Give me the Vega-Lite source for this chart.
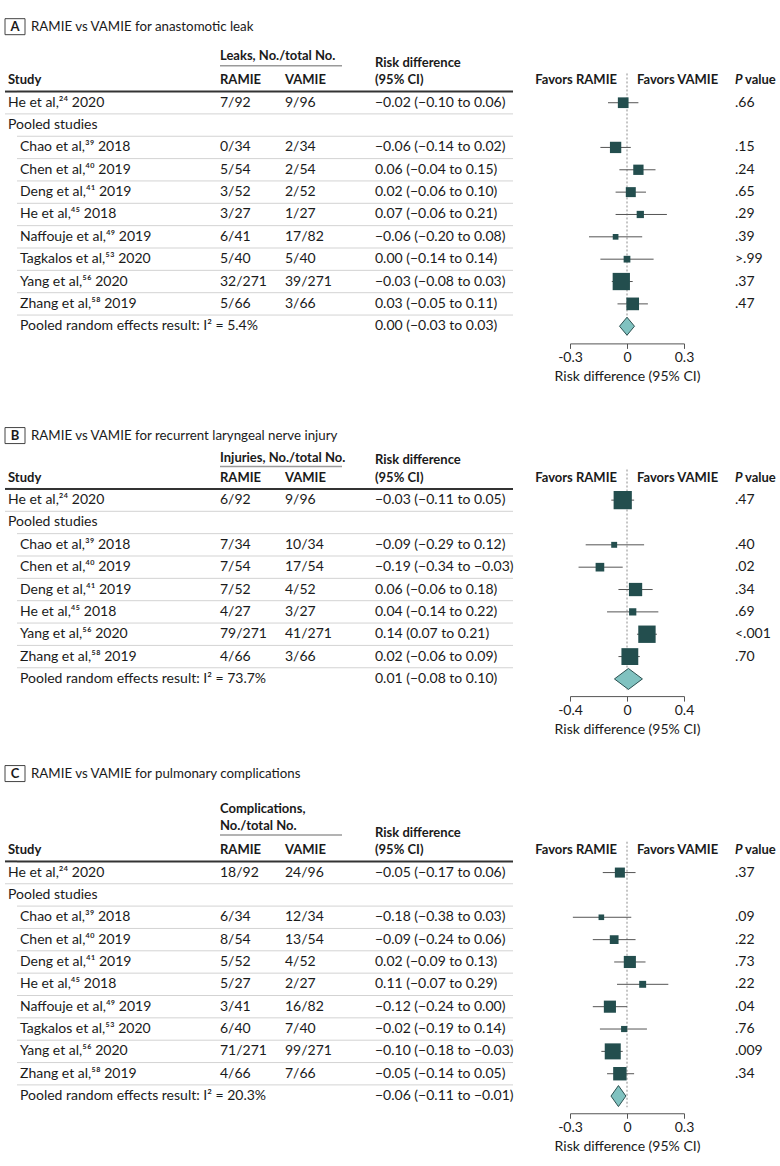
{
"$schema":"https://vega.github.io/schema/vega-lite/v6.json",
"autosize":{"type":"pad"},
"padding":{"top":16.5,"left":3,"right":0,"bottom":4},
"background":"white",
"config":{"view":{"stroke":null},"font":"Lato","text":{"font":"Lato","fontSize":14,"align":"left","baseline":"middle","color":"#1a1a1a"},"axis":{"labelFont":"Lato","titleFont":"Lato"}},
"datasets":{
"A":[
{"row":"r1","kind":"single","study":"He et al,²⁴ 2020","ramie":"7/92","vamie":"9/96","rd":"−0.02 (−0.10 to 0.06)","est":-0.02,"lo":-0.10,"hi":0.06,"w":12.4,"p":".66"},
{"row":"r2","kind":"label","study":"Pooled studies"},
{"row":"r3","kind":"study","study":"Chao et al,³⁹ 2018","ramie":"0/34","vamie":"2/34","rd":"−0.06 (−0.14 to 0.02)","est":-0.06,"lo":-0.14,"hi":0.02,"w":13.9,"p":".15"},
{"row":"r4","kind":"study","study":"Chen et al,⁴⁰ 2019","ramie":"5/54","vamie":"2/54","rd":"0.06 (−0.04 to 0.15)","est":0.06,"lo":-0.04,"hi":0.15,"w":11.5,"p":".24"},
{"row":"r5","kind":"study","study":"Deng et al,⁴¹ 2019","ramie":"3/52","vamie":"2/52","rd":"0.02 (−0.06 to 0.10)","est":0.02,"lo":-0.06,"hi":0.10,"w":10.8,"p":".65"},
{"row":"r6","kind":"study","study":"He et al,⁴⁵ 2018","ramie":"3/27","vamie":"1/27","rd":"0.07 (−0.06 to 0.21)","est":0.07,"lo":-0.06,"hi":0.21,"w":5.7,"p":".29"},
{"row":"r7","kind":"study","study":"Naffouje et al,⁴⁹ 2019","ramie":"6/41","vamie":"17/82","rd":"−0.06 (−0.20 to 0.08)","est":-0.06,"lo":-0.20,"hi":0.08,"w":3.5,"p":".39"},
{"row":"r8","kind":"study","study":"Tagkalos et al,⁵³ 2020","ramie":"5/40","vamie":"5/40","rd":"0.00 (−0.14 to 0.14)","est":0.00,"lo":-0.14,"hi":0.14,"w":4.9,"p":">.99"},
{"row":"r9","kind":"study","study":"Yang et al,⁵⁶ 2020","ramie":"32/271","vamie":"39/271","rd":"−0.03 (−0.08 to 0.03)","est":-0.03,"lo":-0.08,"hi":0.03,"w":32.4,"p":".37"},
{"row":"r10","kind":"study","study":"Zhang et al,⁵⁸ 2019","ramie":"5/66","vamie":"3/66","rd":"0.03 (−0.05 to 0.11)","est":0.03,"lo":-0.05,"hi":0.11,"w":17.4,"p":".47"},
{"row":"r11","kind":"result","study":"Pooled random effects result: I² = 5.4%","rd":"0.00 (−0.03 to 0.03)","est":0.00,"lo":-0.03,"hi":0.03}
],
"hA":[
{"row":"title","kind":"letter","text":"A"},
{"row":"title","kind":"title","text":"RAMIE vs VAMIE for anastomotic leak"},
{"row":"h3","kind":"hdr","col":"study","text":"Study"},
{"row":"h2","kind":"group","text":"Leaks, No./total No."},
{"row":"h3","kind":"hdr","col":"ramie","text":"RAMIE"},
{"row":"h3","kind":"hdr","col":"vamie","text":"VAMIE"},
{"row":"h2","kind":"rdtop","text":"Risk difference"},
{"row":"h3","kind":"hdr","col":"rd","text":"(95% CI)"},
{"row":"h3","kind":"favL","text":"Favors RAMIE"},
{"row":"h3","kind":"favR","text":"Favors VAMIE"},
{"row":"h3","kind":"pital","text":"P"},
{"row":"h3","kind":"pval","text":"value"}
],
"B":[
{"row":"r1","kind":"single","study":"He et al,²⁴ 2020","ramie":"6/92","vamie":"9/96","rd":"−0.03 (−0.11 to 0.05)","est":-0.03,"lo":-0.11,"hi":0.05,"w":36,"p":".47"},
{"row":"r2","kind":"label","study":"Pooled studies"},
{"row":"r3","kind":"study","study":"Chao et al,³⁹ 2018","ramie":"7/34","vamie":"10/34","rd":"−0.09 (−0.29 to 0.12)","est":-0.09,"lo":-0.29,"hi":0.12,"w":3.8,"p":".40"},
{"row":"r4","kind":"study","study":"Chen et al,⁴⁰ 2019","ramie":"7/54","vamie":"17/54","rd":"−0.19 (−0.34 to −0.03)","est":-0.19,"lo":-0.34,"hi":-0.03,"w":8.1,"p":".02"},
{"row":"r5","kind":"study","study":"Deng et al,⁴¹ 2019","ramie":"7/52","vamie":"4/52","rd":"0.06 (−0.06 to 0.18)","est":0.06,"lo":-0.06,"hi":0.18,"w":19.1,"p":".34"},
{"row":"r6","kind":"study","study":"He et al,⁴⁵ 2018","ramie":"4/27","vamie":"3/27","rd":"0.04 (−0.14 to 0.22)","est":0.04,"lo":-0.14,"hi":0.22,"w":5.7,"p":".69"},
{"row":"r7","kind":"study","study":"Yang et al,⁵⁶ 2020","ramie":"79/271","vamie":"41/271","rd":"0.14 (0.07 to 0.21)","est":0.14,"lo":0.07,"hi":0.21,"w":32.7,"p":"<.001"},
{"row":"r8","kind":"study","study":"Zhang et al,⁵⁸ 2019","ramie":"4/66","vamie":"3/66","rd":"0.02 (−0.06 to 0.09)","est":0.02,"lo":-0.06,"hi":0.09,"w":30.7,"p":".70"},
{"row":"r9","kind":"result","study":"Pooled random effects result: I² = 73.7%","rd":"0.01 (−0.08 to 0.10)","est":0.01,"lo":-0.08,"hi":0.10}
],
"hB":[
{"row":"title","kind":"letter","text":"B"},
{"row":"title","kind":"title","text":"RAMIE vs VAMIE for recurrent laryngeal nerve injury"},
{"row":"h3","kind":"hdr","col":"study","text":"Study"},
{"row":"h2","kind":"group","text":"Injuries, No./total No."},
{"row":"h3","kind":"hdr","col":"ramie","text":"RAMIE"},
{"row":"h3","kind":"hdr","col":"vamie","text":"VAMIE"},
{"row":"h2","kind":"rdtop","text":"Risk difference"},
{"row":"h3","kind":"hdr","col":"rd","text":"(95% CI)"},
{"row":"h3","kind":"favL","text":"Favors RAMIE"},
{"row":"h3","kind":"favR","text":"Favors VAMIE"},
{"row":"h3","kind":"pital","text":"P"},
{"row":"h3","kind":"pval","text":"value"}
],
"C":[
{"row":"r1","kind":"single","study":"He et al,²⁴ 2020","ramie":"18/92","vamie":"24/96","rd":"−0.05 (−0.17 to 0.06)","est":-0.05,"lo":-0.17,"hi":0.06,"w":10.9,"p":".37"},
{"row":"r2","kind":"label","study":"Pooled studies"},
{"row":"r3","kind":"study","study":"Chao et al,³⁹ 2018","ramie":"6/34","vamie":"12/34","rd":"−0.18 (−0.38 to 0.03)","est":-0.18,"lo":-0.38,"hi":0.03,"w":3.4,"p":".09"},
{"row":"r4","kind":"study","study":"Chen et al,⁴⁰ 2019","ramie":"8/54","vamie":"13/54","rd":"−0.09 (−0.24 to 0.06)","est":-0.09,"lo":-0.24,"hi":0.06,"w":8.3,"p":".22"},
{"row":"r5","kind":"study","study":"Deng et al,⁴¹ 2019","ramie":"5/52","vamie":"4/52","rd":"0.02 (−0.09 to 0.13)","est":0.02,"lo":-0.09,"hi":0.13,"w":15.9,"p":".73"},
{"row":"r6","kind":"study","study":"He et al,⁴⁵ 2018","ramie":"5/27","vamie":"2/27","rd":"0.11 (−0.07 to 0.29)","est":0.11,"lo":-0.07,"hi":0.29,"w":5.2,"p":".22"},
{"row":"r7","kind":"study","study":"Naffouje et al,⁴⁹ 2019","ramie":"3/41","vamie":"16/82","rd":"−0.12 (−0.24 to 0.00)","est":-0.12,"lo":-0.24,"hi":0.00,"w":15.9,"p":".04"},
{"row":"r8","kind":"study","study":"Tagkalos et al,⁵³ 2020","ramie":"6/40","vamie":"7/40","rd":"−0.02 (−0.19 to 0.14)","est":-0.02,"lo":-0.19,"hi":0.14,"w":4.1,"p":".76"},
{"row":"r9","kind":"study","study":"Yang et al,⁵⁶ 2020","ramie":"71/271","vamie":"99/271","rd":"−0.10 (−0.18 to −0.03)","est":-0.10,"lo":-0.18,"hi":-0.03,"w":27.8,"p":".009"},
{"row":"r10","kind":"study","study":"Zhang et al,⁵⁸ 2019","ramie":"4/66","vamie":"7/66","rd":"−0.05 (−0.14 to 0.05)","est":-0.05,"lo":-0.14,"hi":0.05,"w":19.5,"p":".34"},
{"row":"r11","kind":"result","study":"Pooled random effects result: I² = 20.3%","rd":"−0.06 (−0.11 to −0.01)","est":-0.06,"lo":-0.11,"hi":-0.01}
],
"hC":[
{"row":"title","kind":"letter","text":"C"},
{"row":"title","kind":"title","text":"RAMIE vs VAMIE for pulmonary complications"},
{"row":"h3","kind":"hdr","col":"study","text":"Study"},
{"row":"h1","kind":"group","text":"Complications,"},
{"row":"h2","kind":"group2","text":"No./total No."},
{"row":"h3","kind":"hdr","col":"ramie","text":"RAMIE"},
{"row":"h3","kind":"hdr","col":"vamie","text":"VAMIE"},
{"row":"h2","kind":"rdtop","text":"Risk difference"},
{"row":"h3","kind":"hdr","col":"rd","text":"(95% CI)"},
{"row":"h3","kind":"favL","text":"Favors RAMIE"},
{"row":"h3","kind":"favR","text":"Favors VAMIE"},
{"row":"h3","kind":"pital","text":"P"},
{"row":"h3","kind":"pval","text":"value"}
]
},
"spacing":38.4,
"vconcat":[
{"bounds":"flush","spacing":0,"hconcat":[
 {"width":12,"height":312.9,"encoding":{"x":{"datum":0,"type":"quantitative","scale":{"domain":[0,1]},"axis":null},"y":{"field":"row","type":"nominal","scale":{"type":"band","domain":["title","h2","h3","r1","r2","r3","r4","r5","r6","r7","r8","r9","r10","r11"],"paddingInner":0,"paddingOuter":0},"axis":null}},"layer":[
  {"data":{"name":"hA"},"transform":[{"filter":"datum.kind=='letter'"}],"mark":{"type":"point","shape":"M-1,-0.8L1,-0.8L1,0.8L-1,0.8Z","size":400,"filled":false,"stroke":"#444444","strokeWidth":1,"opacity":1,"xOffset":10,"yOffset":-9}},
  {"data":{"name":"hA"},"transform":[{"filter":"datum.kind=='letter'"}],"mark":{"type":"text","fontWeight":"bold","fontSize":13,"align":"center","dx":10,"dy":-9},"encoding":{"text":{"field":"text"}}},
  {"data":{"name":"hA"},"transform":[{"filter":"datum.kind=='title'"}],"mark":{"type":"text","fontSize":13.3,"dx":26,"dy":-9},"encoding":{"text":{"field":"text"}}},
  {"data":{"name":"hA"},"transform":[{"filter":"datum.col=='study'"}],"mark":{"type":"text","fontWeight":"bold","fontSize":13,"dx":3},"encoding":{"text":{"field":"text"}}},
  {"data":{"values":[{}]},"mark":{"type":"rule","color":"#333333","strokeWidth":2},"encoding":{"x2":{"datum":1},"y":{"datum":"h3","type":"nominal","bandPosition":1,"scale":{"type":"band","domain":["title","h2","h3","r1","r2","r3","r4","r5","r6","r7","r8","r9","r10","r11"],"paddingInner":0,"paddingOuter":0},"axis":null}}},
  {"data":{"name":"A"},"transform":[{"filter":"datum.kind=='single'"}],"mark":{"type":"rule","color":"#d3d3d3","strokeWidth":1},"encoding":{"x2":{"datum":1},"y":{"field":"row","type":"nominal","bandPosition":1,"scale":{"type":"band","domain":["title","h2","h3","r1","r2","r3","r4","r5","r6","r7","r8","r9","r10","r11"],"paddingInner":0,"paddingOuter":0},"axis":null}}},
  {"data":{"name":"A"},"transform":[{"filter":"datum.kind=='single'||datum.kind=='label'"}],"mark":{"type":"text","dx":3},"encoding":{"text":{"field":"study"}}}
 ]},
 {"width":203,"height":312.9,"encoding":{"x":{"datum":0,"type":"quantitative","scale":{"domain":[0,1]},"axis":null},"y":{"field":"row","type":"nominal","scale":{"type":"band","domain":["title","h2","h3","r1","r2","r3","r4","r5","r6","r7","r8","r9","r10","r11"],"paddingInner":0,"paddingOuter":0},"axis":null}},"layer":[
  {"data":{"values":[{}]},"mark":{"type":"rule","color":"#333333","strokeWidth":2},"encoding":{"x2":{"datum":1},"y":{"datum":"h3","type":"nominal","bandPosition":1,"scale":{"type":"band","domain":["title","h2","h3","r1","r2","r3","r4","r5","r6","r7","r8","r9","r10","r11"],"paddingInner":0,"paddingOuter":0},"axis":null}}},
  {"data":{"name":"A"},"transform":[{"filter":"datum.kind!='result'"}],"mark":{"type":"rule","color":"#d3d3d3","strokeWidth":1},"encoding":{"x2":{"datum":1},"y":{"field":"row","type":"nominal","bandPosition":1,"scale":{"type":"band","domain":["title","h2","h3","r1","r2","r3","r4","r5","r6","r7","r8","r9","r10","r11"],"paddingInner":0,"paddingOuter":0},"axis":null}}},
  {"data":{"name":"A"},"transform":[{"filter":"datum.kind=='study'||datum.kind=='result'"}],"mark":{"type":"text","dx":3},"encoding":{"text":{"field":"study"}}}
 ]},
 {"width":65,"height":312.9,"encoding":{"x":{"datum":0,"type":"quantitative","scale":{"domain":[0,1]},"axis":null},"y":{"field":"row","type":"nominal","scale":{"type":"band","domain":["title","h2","h3","r1","r2","r3","r4","r5","r6","r7","r8","r9","r10","r11"],"paddingInner":0,"paddingOuter":0},"axis":null}},"layer":[
  {"data":{"values":[{}]},"mark":{"type":"rule","color":"#333333","strokeWidth":2},"encoding":{"x2":{"datum":1},"y":{"datum":"h3","type":"nominal","bandPosition":1,"scale":{"type":"band","domain":["title","h2","h3","r1","r2","r3","r4","r5","r6","r7","r8","r9","r10","r11"],"paddingInner":0,"paddingOuter":0},"axis":null}}},
  {"data":{"name":"A"},"transform":[{"filter":"datum.kind!='result'"}],"mark":{"type":"rule","color":"#d3d3d3","strokeWidth":1},"encoding":{"x2":{"datum":1},"y":{"field":"row","type":"nominal","bandPosition":1,"scale":{"type":"band","domain":["title","h2","h3","r1","r2","r3","r4","r5","r6","r7","r8","r9","r10","r11"],"paddingInner":0,"paddingOuter":0},"axis":null}}},
  {"data":{"values":[{}]},"mark":{"type":"rule","color":"#9a9a9a","strokeWidth":1.5},"encoding":{"x2":{"datum":1},"y":{"datum":"h2","type":"nominal","bandPosition":0.845,"scale":{"type":"band","domain":["title","h2","h3","r1","r2","r3","r4","r5","r6","r7","r8","r9","r10","r11"],"paddingInner":0,"paddingOuter":0},"axis":null}}},
  {"data":{"name":"hA"},"transform":[{"filter":"datum.kind=='group'"}],"mark":{"type":"text","fontWeight":"bold","fontSize":13,"dy":-2.3},"encoding":{"text":{"field":"text"}}},
  {"data":{"name":"hA"},"transform":[{"filter":"datum.col=='ramie'"}],"mark":{"type":"text","fontWeight":"bold","fontSize":13},"encoding":{"text":{"field":"text"}}},
  {"data":{"name":"A"},"transform":[{"filter":"isValid(datum.ramie)"}],"mark":{"type":"text"},"encoding":{"text":{"field":"ramie"}}}
 ]},
 {"width":57,"height":312.9,"encoding":{"x":{"datum":0,"type":"quantitative","scale":{"domain":[0,1]},"axis":null},"y":{"field":"row","type":"nominal","scale":{"type":"band","domain":["title","h2","h3","r1","r2","r3","r4","r5","r6","r7","r8","r9","r10","r11"],"paddingInner":0,"paddingOuter":0},"axis":null}},"layer":[
  {"data":{"values":[{}]},"mark":{"type":"rule","color":"#333333","strokeWidth":2},"encoding":{"x2":{"datum":1},"y":{"datum":"h3","type":"nominal","bandPosition":1,"scale":{"type":"band","domain":["title","h2","h3","r1","r2","r3","r4","r5","r6","r7","r8","r9","r10","r11"],"paddingInner":0,"paddingOuter":0},"axis":null}}},
  {"data":{"name":"A"},"transform":[{"filter":"datum.kind!='result'"}],"mark":{"type":"rule","color":"#d3d3d3","strokeWidth":1},"encoding":{"x2":{"datum":1},"y":{"field":"row","type":"nominal","bandPosition":1,"scale":{"type":"band","domain":["title","h2","h3","r1","r2","r3","r4","r5","r6","r7","r8","r9","r10","r11"],"paddingInner":0,"paddingOuter":0},"axis":null}}},
  {"data":{"values":[{}]},"mark":{"type":"rule","color":"#9a9a9a","strokeWidth":1.5},"encoding":{"x2":{"datum":1},"y":{"datum":"h2","type":"nominal","bandPosition":0.845,"scale":{"type":"band","domain":["title","h2","h3","r1","r2","r3","r4","r5","r6","r7","r8","r9","r10","r11"],"paddingInner":0,"paddingOuter":0},"axis":null}}},
  {"data":{"name":"hA"},"transform":[{"filter":"datum.col=='vamie'"}],"mark":{"type":"text","fontWeight":"bold","fontSize":13},"encoding":{"text":{"field":"text"}}},
  {"data":{"name":"A"},"transform":[{"filter":"isValid(datum.vamie)"}],"mark":{"type":"text"},"encoding":{"text":{"field":"vamie"}}}
 ]},
 {"width":33,"height":312.9,"encoding":{"x":{"datum":0,"type":"quantitative","scale":{"domain":[0,1]},"axis":null},"y":{"field":"row","type":"nominal","scale":{"type":"band","domain":["title","h2","h3","r1","r2","r3","r4","r5","r6","r7","r8","r9","r10","r11"],"paddingInner":0,"paddingOuter":0},"axis":null}},"layer":[
  {"data":{"values":[{}]},"mark":{"type":"rule","color":"#333333","strokeWidth":2},"encoding":{"x2":{"datum":1},"y":{"datum":"h3","type":"nominal","bandPosition":1,"scale":{"type":"band","domain":["title","h2","h3","r1","r2","r3","r4","r5","r6","r7","r8","r9","r10","r11"],"paddingInner":0,"paddingOuter":0},"axis":null}}},
  {"data":{"name":"A"},"transform":[{"filter":"datum.kind!='result'"}],"mark":{"type":"rule","color":"#d3d3d3","strokeWidth":1},"encoding":{"x2":{"datum":1},"y":{"field":"row","type":"nominal","bandPosition":1,"scale":{"type":"band","domain":["title","h2","h3","r1","r2","r3","r4","r5","r6","r7","r8","r9","r10","r11"],"paddingInner":0,"paddingOuter":0},"axis":null}}}
 ]},
 {"width":138,"height":312.9,"encoding":{"x":{"datum":0,"type":"quantitative","scale":{"domain":[0,1]},"axis":null},"y":{"field":"row","type":"nominal","scale":{"type":"band","domain":["title","h2","h3","r1","r2","r3","r4","r5","r6","r7","r8","r9","r10","r11"],"paddingInner":0,"paddingOuter":0},"axis":null}},"layer":[
  {"data":{"values":[{}]},"mark":{"type":"rule","color":"#333333","strokeWidth":2},"encoding":{"x2":{"datum":1},"y":{"datum":"h3","type":"nominal","bandPosition":1,"scale":{"type":"band","domain":["title","h2","h3","r1","r2","r3","r4","r5","r6","r7","r8","r9","r10","r11"],"paddingInner":0,"paddingOuter":0},"axis":null}}},
  {"data":{"name":"A"},"transform":[{"filter":"datum.kind!='result'"}],"mark":{"type":"rule","color":"#d3d3d3","strokeWidth":1},"encoding":{"x2":{"datum":1},"y":{"field":"row","type":"nominal","bandPosition":1,"scale":{"type":"band","domain":["title","h2","h3","r1","r2","r3","r4","r5","r6","r7","r8","r9","r10","r11"],"paddingInner":0,"paddingOuter":0},"axis":null}}},
  {"data":{"name":"hA"},"transform":[{"filter":"datum.kind=='rdtop'"}],"mark":{"type":"text","fontWeight":"bold","fontSize":13,"dy":4.5},"encoding":{"text":{"field":"text"}}},
  {"data":{"name":"hA"},"transform":[{"filter":"datum.col=='rd'"}],"mark":{"type":"text","fontWeight":"bold","fontSize":13},"encoding":{"text":{"field":"text"}}},
  {"data":{"name":"A"},"transform":[{"filter":"isValid(datum.rd)"}],"mark":{"type":"text"},"encoding":{"text":{"field":"rd"}}}
 ]},
 {"width":222,"height":312.9,"encoding":{"y":{"field":"row","type":"nominal","scale":{"type":"band","domain":["title","h2","h3","r1","r2","r3","r4","r5","r6","r7","r8","r9","r10","r11"],"paddingInner":0,"paddingOuter":0},"axis":null}},"layer":[
  {"data":{"values":[{}]},"mark":{"type":"rule","color":"#8c8c8c","strokeDash":[2,2],"strokeWidth":1},"encoding":{"x":{"datum":0,"type":"quantitative","scale":{"domain":[-0.3,0.3],"range":[57,171],"clamp":true,"nice":false,"zero":false},"axis":{"values":[-0.3,0,0.3],"labelExpr":"datum.value < 0 ? '-0.3' : datum.value > 0 ? '0.3' : '0'","title":"Risk difference (95% CI)","offset":6,"grid":false,"domainColor":"#555555","tickColor":"#555555","tickSize":5,"labelFontSize":14,"labelColor":"#1a1a1a","labelPadding":2,"titleFontSize":14,"titleFontWeight":"normal","titleColor":"#1a1a1a","titlePadding":5,"orient":"bottom","labelFlush":false,"labelOverlap":false}},"y":{"datum":"h3","type":"nominal","bandPosition":0.19,"scale":{"type":"band","domain":["title","h2","h3","r1","r2","r3","r4","r5","r6","r7","r8","r9","r10","r11"],"paddingInner":0,"paddingOuter":0},"axis":null},"y2":{"datum":"r11","bandPosition":1}}},
  {"data":{"name":"hA"},"transform":[{"filter":"datum.kind=='favL'"}],"mark":{"type":"text","fontWeight":"bold","fontSize":13,"align":"right","dx":-10},"encoding":{"x":{"datum":0,"type":"quantitative"},"text":{"field":"text"}}},
  {"data":{"name":"hA"},"transform":[{"filter":"datum.kind=='favR'"}],"mark":{"type":"text","fontWeight":"bold","fontSize":13,"align":"left","dx":10},"encoding":{"x":{"datum":0,"type":"quantitative"},"text":{"field":"text"}}},
  {"data":{"name":"A"},"transform":[{"filter":"isValid(datum.w)"}],"mark":{"type":"rule","color":"#555555","strokeWidth":1},"encoding":{"x":{"field":"lo","type":"quantitative"},"x2":{"field":"hi"}}},
  {"data":{"name":"A"},"transform":[{"filter":"isValid(datum.w)"}],"mark":{"type":"point","shape":"square","filled":true,"color":"#234e4e","opacity":1},"encoding":{"x":{"field":"est","type":"quantitative"},"size":{"field":"w","type":"quantitative","scale":{"domain":[0,100],"range":[0,923]},"legend":null}}},
  {"data":{"name":"A"},"transform":[{"filter":"datum.kind=='result'"}],"mark":{"type":"point","shape":"M-0.83,0L0,-1L0.83,0L0,1Z","size":324,"filled":true,"fill":"#80c2c0","stroke":"#2b5050","strokeWidth":1,"opacity":1},"encoding":{"x":{"field":"est","type":"quantitative"}}}
 ]},
 {"width":47,"height":312.9,"encoding":{"x":{"datum":0,"type":"quantitative","scale":{"domain":[0,1]},"axis":null},"y":{"field":"row","type":"nominal","scale":{"type":"band","domain":["title","h2","h3","r1","r2","r3","r4","r5","r6","r7","r8","r9","r10","r11"],"paddingInner":0,"paddingOuter":0},"axis":null}},"layer":[
  {"data":{"name":"hA"},"transform":[{"filter":"datum.kind=='pital'"}],"mark":{"type":"text","fontWeight":"bold","fontStyle":"italic","fontSize":13},"encoding":{"text":{"field":"text"}}},
  {"data":{"name":"hA"},"transform":[{"filter":"datum.kind=='pval'"}],"mark":{"type":"text","fontWeight":"bold","fontSize":13,"dx":10},"encoding":{"text":{"field":"text"}}},
  {"data":{"name":"A"},"transform":[{"filter":"isValid(datum.p)"}],"mark":{"type":"text"},"encoding":{"text":{"field":"p"}}}
 ]}
]},
{"spacing":26.1,"vconcat":[
{"bounds":"flush","spacing":0,"hconcat":[
 {"width":12,"height":268.2,"encoding":{"x":{"datum":0,"type":"quantitative","scale":{"domain":[0,1]},"axis":null},"y":{"field":"row","type":"nominal","scale":{"type":"band","domain":["title","h2","h3","r1","r2","r3","r4","r5","r6","r7","r8","r9"],"paddingInner":0,"paddingOuter":0},"axis":null}},"layer":[
  {"data":{"name":"hB"},"transform":[{"filter":"datum.kind=='letter'"}],"mark":{"type":"point","shape":"M-1,-0.8L1,-0.8L1,0.8L-1,0.8Z","size":400,"filled":false,"stroke":"#444444","strokeWidth":1,"opacity":1,"xOffset":10,"yOffset":2.5}},
  {"data":{"name":"hB"},"transform":[{"filter":"datum.kind=='letter'"}],"mark":{"type":"text","fontWeight":"bold","fontSize":13,"align":"center","dx":10,"dy":2.5},"encoding":{"text":{"field":"text"}}},
  {"data":{"name":"hB"},"transform":[{"filter":"datum.kind=='title'"}],"mark":{"type":"text","fontSize":13.3,"dx":26,"dy":2.5},"encoding":{"text":{"field":"text"}}},
  {"data":{"name":"hB"},"transform":[{"filter":"datum.col=='study'"}],"mark":{"type":"text","fontWeight":"bold","fontSize":13,"dx":3},"encoding":{"text":{"field":"text"}}},
  {"data":{"values":[{}]},"mark":{"type":"rule","color":"#333333","strokeWidth":2},"encoding":{"x2":{"datum":1},"y":{"datum":"h3","type":"nominal","bandPosition":1,"scale":{"type":"band","domain":["title","h2","h3","r1","r2","r3","r4","r5","r6","r7","r8","r9"],"paddingInner":0,"paddingOuter":0},"axis":null}}},
  {"data":{"name":"B"},"transform":[{"filter":"datum.kind=='single'"}],"mark":{"type":"rule","color":"#d3d3d3","strokeWidth":1},"encoding":{"x2":{"datum":1},"y":{"field":"row","type":"nominal","bandPosition":1,"scale":{"type":"band","domain":["title","h2","h3","r1","r2","r3","r4","r5","r6","r7","r8","r9"],"paddingInner":0,"paddingOuter":0},"axis":null}}},
  {"data":{"name":"B"},"transform":[{"filter":"datum.kind=='single'||datum.kind=='label'"}],"mark":{"type":"text","dx":3},"encoding":{"text":{"field":"study"}}}
 ]},
 {"width":203,"height":268.2,"encoding":{"x":{"datum":0,"type":"quantitative","scale":{"domain":[0,1]},"axis":null},"y":{"field":"row","type":"nominal","scale":{"type":"band","domain":["title","h2","h3","r1","r2","r3","r4","r5","r6","r7","r8","r9"],"paddingInner":0,"paddingOuter":0},"axis":null}},"layer":[
  {"data":{"values":[{}]},"mark":{"type":"rule","color":"#333333","strokeWidth":2},"encoding":{"x2":{"datum":1},"y":{"datum":"h3","type":"nominal","bandPosition":1,"scale":{"type":"band","domain":["title","h2","h3","r1","r2","r3","r4","r5","r6","r7","r8","r9"],"paddingInner":0,"paddingOuter":0},"axis":null}}},
  {"data":{"name":"B"},"transform":[{"filter":"datum.kind!='result'"}],"mark":{"type":"rule","color":"#d3d3d3","strokeWidth":1},"encoding":{"x2":{"datum":1},"y":{"field":"row","type":"nominal","bandPosition":1,"scale":{"type":"band","domain":["title","h2","h3","r1","r2","r3","r4","r5","r6","r7","r8","r9"],"paddingInner":0,"paddingOuter":0},"axis":null}}},
  {"data":{"name":"B"},"transform":[{"filter":"datum.kind=='study'||datum.kind=='result'"}],"mark":{"type":"text","dx":3},"encoding":{"text":{"field":"study"}}}
 ]},
 {"width":65,"height":268.2,"encoding":{"x":{"datum":0,"type":"quantitative","scale":{"domain":[0,1]},"axis":null},"y":{"field":"row","type":"nominal","scale":{"type":"band","domain":["title","h2","h3","r1","r2","r3","r4","r5","r6","r7","r8","r9"],"paddingInner":0,"paddingOuter":0},"axis":null}},"layer":[
  {"data":{"values":[{}]},"mark":{"type":"rule","color":"#333333","strokeWidth":2},"encoding":{"x2":{"datum":1},"y":{"datum":"h3","type":"nominal","bandPosition":1,"scale":{"type":"band","domain":["title","h2","h3","r1","r2","r3","r4","r5","r6","r7","r8","r9"],"paddingInner":0,"paddingOuter":0},"axis":null}}},
  {"data":{"name":"B"},"transform":[{"filter":"datum.kind!='result'"}],"mark":{"type":"rule","color":"#d3d3d3","strokeWidth":1},"encoding":{"x2":{"datum":1},"y":{"field":"row","type":"nominal","bandPosition":1,"scale":{"type":"band","domain":["title","h2","h3","r1","r2","r3","r4","r5","r6","r7","r8","r9"],"paddingInner":0,"paddingOuter":0},"axis":null}}},
  {"data":{"values":[{}]},"mark":{"type":"rule","color":"#9a9a9a","strokeWidth":1.5},"encoding":{"x2":{"datum":1},"y":{"datum":"h2","type":"nominal","bandPosition":1,"scale":{"type":"band","domain":["title","h2","h3","r1","r2","r3","r4","r5","r6","r7","r8","r9"],"paddingInner":0,"paddingOuter":0},"axis":null}}},
  {"data":{"name":"hB"},"transform":[{"filter":"datum.kind=='group'"}],"mark":{"type":"text","fontWeight":"bold","fontSize":13,"dy":3},"encoding":{"text":{"field":"text"}}},
  {"data":{"name":"hB"},"transform":[{"filter":"datum.col=='ramie'"}],"mark":{"type":"text","fontWeight":"bold","fontSize":13},"encoding":{"text":{"field":"text"}}},
  {"data":{"name":"B"},"transform":[{"filter":"isValid(datum.ramie)"}],"mark":{"type":"text"},"encoding":{"text":{"field":"ramie"}}}
 ]},
 {"width":57,"height":268.2,"encoding":{"x":{"datum":0,"type":"quantitative","scale":{"domain":[0,1]},"axis":null},"y":{"field":"row","type":"nominal","scale":{"type":"band","domain":["title","h2","h3","r1","r2","r3","r4","r5","r6","r7","r8","r9"],"paddingInner":0,"paddingOuter":0},"axis":null}},"layer":[
  {"data":{"values":[{}]},"mark":{"type":"rule","color":"#333333","strokeWidth":2},"encoding":{"x2":{"datum":1},"y":{"datum":"h3","type":"nominal","bandPosition":1,"scale":{"type":"band","domain":["title","h2","h3","r1","r2","r3","r4","r5","r6","r7","r8","r9"],"paddingInner":0,"paddingOuter":0},"axis":null}}},
  {"data":{"name":"B"},"transform":[{"filter":"datum.kind!='result'"}],"mark":{"type":"rule","color":"#d3d3d3","strokeWidth":1},"encoding":{"x2":{"datum":1},"y":{"field":"row","type":"nominal","bandPosition":1,"scale":{"type":"band","domain":["title","h2","h3","r1","r2","r3","r4","r5","r6","r7","r8","r9"],"paddingInner":0,"paddingOuter":0},"axis":null}}},
  {"data":{"values":[{}]},"mark":{"type":"rule","color":"#9a9a9a","strokeWidth":1.5},"encoding":{"x2":{"datum":1},"y":{"datum":"h2","type":"nominal","bandPosition":1,"scale":{"type":"band","domain":["title","h2","h3","r1","r2","r3","r4","r5","r6","r7","r8","r9"],"paddingInner":0,"paddingOuter":0},"axis":null}}},
  {"data":{"name":"hB"},"transform":[{"filter":"datum.col=='vamie'"}],"mark":{"type":"text","fontWeight":"bold","fontSize":13},"encoding":{"text":{"field":"text"}}},
  {"data":{"name":"B"},"transform":[{"filter":"isValid(datum.vamie)"}],"mark":{"type":"text"},"encoding":{"text":{"field":"vamie"}}}
 ]},
 {"width":33,"height":268.2,"encoding":{"x":{"datum":0,"type":"quantitative","scale":{"domain":[0,1]},"axis":null},"y":{"field":"row","type":"nominal","scale":{"type":"band","domain":["title","h2","h3","r1","r2","r3","r4","r5","r6","r7","r8","r9"],"paddingInner":0,"paddingOuter":0},"axis":null}},"layer":[
  {"data":{"values":[{}]},"mark":{"type":"rule","color":"#333333","strokeWidth":2},"encoding":{"x2":{"datum":1},"y":{"datum":"h3","type":"nominal","bandPosition":1,"scale":{"type":"band","domain":["title","h2","h3","r1","r2","r3","r4","r5","r6","r7","r8","r9"],"paddingInner":0,"paddingOuter":0},"axis":null}}},
  {"data":{"name":"B"},"transform":[{"filter":"datum.kind!='result'"}],"mark":{"type":"rule","color":"#d3d3d3","strokeWidth":1},"encoding":{"x2":{"datum":1},"y":{"field":"row","type":"nominal","bandPosition":1,"scale":{"type":"band","domain":["title","h2","h3","r1","r2","r3","r4","r5","r6","r7","r8","r9"],"paddingInner":0,"paddingOuter":0},"axis":null}}}
 ]},
 {"width":138,"height":268.2,"encoding":{"x":{"datum":0,"type":"quantitative","scale":{"domain":[0,1]},"axis":null},"y":{"field":"row","type":"nominal","scale":{"type":"band","domain":["title","h2","h3","r1","r2","r3","r4","r5","r6","r7","r8","r9"],"paddingInner":0,"paddingOuter":0},"axis":null}},"layer":[
  {"data":{"values":[{}]},"mark":{"type":"rule","color":"#333333","strokeWidth":2},"encoding":{"x2":{"datum":1},"y":{"datum":"h3","type":"nominal","bandPosition":1,"scale":{"type":"band","domain":["title","h2","h3","r1","r2","r3","r4","r5","r6","r7","r8","r9"],"paddingInner":0,"paddingOuter":0},"axis":null}}},
  {"data":{"name":"B"},"transform":[{"filter":"datum.kind!='result'"}],"mark":{"type":"rule","color":"#d3d3d3","strokeWidth":1},"encoding":{"x2":{"datum":1},"y":{"field":"row","type":"nominal","bandPosition":1,"scale":{"type":"band","domain":["title","h2","h3","r1","r2","r3","r4","r5","r6","r7","r8","r9"],"paddingInner":0,"paddingOuter":0},"axis":null}}},
  {"data":{"name":"hB"},"transform":[{"filter":"datum.kind=='rdtop'"}],"mark":{"type":"text","fontWeight":"bold","fontSize":13,"dy":5},"encoding":{"text":{"field":"text"}}},
  {"data":{"name":"hB"},"transform":[{"filter":"datum.col=='rd'"}],"mark":{"type":"text","fontWeight":"bold","fontSize":13},"encoding":{"text":{"field":"text"}}},
  {"data":{"name":"B"},"transform":[{"filter":"isValid(datum.rd)"}],"mark":{"type":"text"},"encoding":{"text":{"field":"rd"}}}
 ]},
 {"width":222,"height":268.2,"encoding":{"y":{"field":"row","type":"nominal","scale":{"type":"band","domain":["title","h2","h3","r1","r2","r3","r4","r5","r6","r7","r8","r9"],"paddingInner":0,"paddingOuter":0},"axis":null}},"layer":[
  {"data":{"values":[{}]},"mark":{"type":"rule","color":"#8c8c8c","strokeDash":[2,2],"strokeWidth":1},"encoding":{"x":{"datum":0,"type":"quantitative","scale":{"domain":[-0.4,0.4],"range":[57,171],"clamp":true,"nice":false,"zero":false},"axis":{"values":[-0.4,0,0.4],"labelExpr":"datum.value < 0 ? '-0.4' : datum.value > 0 ? '0.4' : '0'","title":"Risk difference (95% CI)","offset":6,"grid":false,"domainColor":"#555555","tickColor":"#555555","tickSize":5,"labelFontSize":14,"labelColor":"#1a1a1a","labelPadding":2,"titleFontSize":14,"titleFontWeight":"normal","titleColor":"#1a1a1a","titlePadding":5,"orient":"bottom","labelFlush":false,"labelOverlap":false}},"y":{"datum":"h3","type":"nominal","bandPosition":0.13,"scale":{"type":"band","domain":["title","h2","h3","r1","r2","r3","r4","r5","r6","r7","r8","r9"],"paddingInner":0,"paddingOuter":0},"axis":null},"y2":{"datum":"r9","bandPosition":1}}},
  {"data":{"name":"hB"},"transform":[{"filter":"datum.kind=='favL'"}],"mark":{"type":"text","fontWeight":"bold","fontSize":13,"align":"right","dx":-10},"encoding":{"x":{"datum":0,"type":"quantitative"},"text":{"field":"text"}}},
  {"data":{"name":"hB"},"transform":[{"filter":"datum.kind=='favR'"}],"mark":{"type":"text","fontWeight":"bold","fontSize":13,"align":"left","dx":10},"encoding":{"x":{"datum":0,"type":"quantitative"},"text":{"field":"text"}}},
  {"data":{"name":"B"},"transform":[{"filter":"isValid(datum.w)"}],"mark":{"type":"rule","color":"#555555","strokeWidth":1},"encoding":{"x":{"field":"lo","type":"quantitative"},"x2":{"field":"hi"}}},
  {"data":{"name":"B"},"transform":[{"filter":"isValid(datum.w)"}],"mark":{"type":"point","shape":"square","filled":true,"color":"#234e4e","opacity":1},"encoding":{"x":{"field":"est","type":"quantitative"},"size":{"field":"w","type":"quantitative","scale":{"domain":[0,100],"range":[0,492]},"legend":null}}},
  {"data":{"name":"B"},"transform":[{"filter":"datum.kind=='result'"}],"mark":{"type":"point","shape":"M-1,0L0,-0.75L1,0L0,0.75Z","size":784,"filled":true,"fill":"#80c2c0","stroke":"#2b5050","strokeWidth":1,"opacity":1},"encoding":{"x":{"field":"est","type":"quantitative"}}}
 ]},
 {"width":47,"height":268.2,"encoding":{"x":{"datum":0,"type":"quantitative","scale":{"domain":[0,1]},"axis":null},"y":{"field":"row","type":"nominal","scale":{"type":"band","domain":["title","h2","h3","r1","r2","r3","r4","r5","r6","r7","r8","r9"],"paddingInner":0,"paddingOuter":0},"axis":null}},"layer":[
  {"data":{"name":"hB"},"transform":[{"filter":"datum.kind=='pital'"}],"mark":{"type":"text","fontWeight":"bold","fontStyle":"italic","fontSize":13},"encoding":{"text":{"field":"text"}}},
  {"data":{"name":"hB"},"transform":[{"filter":"datum.kind=='pval'"}],"mark":{"type":"text","fontWeight":"bold","fontSize":13,"dx":10},"encoding":{"text":{"field":"text"}}},
  {"data":{"name":"B"},"transform":[{"filter":"isValid(datum.p)"}],"mark":{"type":"text"},"encoding":{"text":{"field":"p"}}}
 ]}
]},
{"bounds":"flush","spacing":0,"hconcat":[
 {"width":12,"height":335.25,"encoding":{"x":{"datum":0,"type":"quantitative","scale":{"domain":[0,1]},"axis":null},"y":{"field":"row","type":"nominal","scale":{"type":"band","domain":["title","h1","h2","h3","r1","r2","r3","r4","r5","r6","r7","r8","r9","r10","r11"],"paddingInner":0,"paddingOuter":0},"axis":null}},"layer":[
  {"data":{"name":"hC"},"transform":[{"filter":"datum.kind=='letter'"}],"mark":{"type":"point","shape":"M-1,-0.8L1,-0.8L1,0.8L-1,0.8Z","size":400,"filled":false,"stroke":"#444444","strokeWidth":1,"opacity":1,"xOffset":10,"yOffset":-9.6}},
  {"data":{"name":"hC"},"transform":[{"filter":"datum.kind=='letter'"}],"mark":{"type":"text","fontWeight":"bold","fontSize":13,"align":"center","dx":10,"dy":-9.6},"encoding":{"text":{"field":"text"}}},
  {"data":{"name":"hC"},"transform":[{"filter":"datum.kind=='title'"}],"mark":{"type":"text","fontSize":13.3,"dx":26,"dy":-9.6},"encoding":{"text":{"field":"text"}}},
  {"data":{"name":"hC"},"transform":[{"filter":"datum.col=='study'"}],"mark":{"type":"text","fontWeight":"bold","fontSize":13,"dx":3},"encoding":{"text":{"field":"text"}}},
  {"data":{"values":[{}]},"mark":{"type":"rule","color":"#333333","strokeWidth":2},"encoding":{"x2":{"datum":1},"y":{"datum":"h3","type":"nominal","bandPosition":1,"scale":{"type":"band","domain":["title","h1","h2","h3","r1","r2","r3","r4","r5","r6","r7","r8","r9","r10","r11"],"paddingInner":0,"paddingOuter":0},"axis":null}}},
  {"data":{"name":"C"},"transform":[{"filter":"datum.kind=='single'"}],"mark":{"type":"rule","color":"#d3d3d3","strokeWidth":1},"encoding":{"x2":{"datum":1},"y":{"field":"row","type":"nominal","bandPosition":1,"scale":{"type":"band","domain":["title","h1","h2","h3","r1","r2","r3","r4","r5","r6","r7","r8","r9","r10","r11"],"paddingInner":0,"paddingOuter":0},"axis":null}}},
  {"data":{"name":"C"},"transform":[{"filter":"datum.kind=='single'||datum.kind=='label'"}],"mark":{"type":"text","dx":3},"encoding":{"text":{"field":"study"}}}
 ]},
 {"width":203,"height":335.25,"encoding":{"x":{"datum":0,"type":"quantitative","scale":{"domain":[0,1]},"axis":null},"y":{"field":"row","type":"nominal","scale":{"type":"band","domain":["title","h1","h2","h3","r1","r2","r3","r4","r5","r6","r7","r8","r9","r10","r11"],"paddingInner":0,"paddingOuter":0},"axis":null}},"layer":[
  {"data":{"values":[{}]},"mark":{"type":"rule","color":"#333333","strokeWidth":2},"encoding":{"x2":{"datum":1},"y":{"datum":"h3","type":"nominal","bandPosition":1,"scale":{"type":"band","domain":["title","h1","h2","h3","r1","r2","r3","r4","r5","r6","r7","r8","r9","r10","r11"],"paddingInner":0,"paddingOuter":0},"axis":null}}},
  {"data":{"name":"C"},"transform":[{"filter":"datum.kind!='result'"}],"mark":{"type":"rule","color":"#d3d3d3","strokeWidth":1},"encoding":{"x2":{"datum":1},"y":{"field":"row","type":"nominal","bandPosition":1,"scale":{"type":"band","domain":["title","h1","h2","h3","r1","r2","r3","r4","r5","r6","r7","r8","r9","r10","r11"],"paddingInner":0,"paddingOuter":0},"axis":null}}},
  {"data":{"name":"C"},"transform":[{"filter":"datum.kind=='study'||datum.kind=='result'"}],"mark":{"type":"text","dx":3},"encoding":{"text":{"field":"study"}}}
 ]},
 {"width":65,"height":335.25,"encoding":{"x":{"datum":0,"type":"quantitative","scale":{"domain":[0,1]},"axis":null},"y":{"field":"row","type":"nominal","scale":{"type":"band","domain":["title","h1","h2","h3","r1","r2","r3","r4","r5","r6","r7","r8","r9","r10","r11"],"paddingInner":0,"paddingOuter":0},"axis":null}},"layer":[
  {"data":{"values":[{}]},"mark":{"type":"rule","color":"#333333","strokeWidth":2},"encoding":{"x2":{"datum":1},"y":{"datum":"h3","type":"nominal","bandPosition":1,"scale":{"type":"band","domain":["title","h1","h2","h3","r1","r2","r3","r4","r5","r6","r7","r8","r9","r10","r11"],"paddingInner":0,"paddingOuter":0},"axis":null}}},
  {"data":{"name":"C"},"transform":[{"filter":"datum.kind!='result'"}],"mark":{"type":"rule","color":"#d3d3d3","strokeWidth":1},"encoding":{"x2":{"datum":1},"y":{"field":"row","type":"nominal","bandPosition":1,"scale":{"type":"band","domain":["title","h1","h2","h3","r1","r2","r3","r4","r5","r6","r7","r8","r9","r10","r11"],"paddingInner":0,"paddingOuter":0},"axis":null}}},
  {"data":{"values":[{}]},"mark":{"type":"rule","color":"#9a9a9a","strokeWidth":1.5},"encoding":{"x2":{"datum":1},"y":{"datum":"h2","type":"nominal","bandPosition":0.82,"scale":{"type":"band","domain":["title","h1","h2","h3","r1","r2","r3","r4","r5","r6","r7","r8","r9","r10","r11"],"paddingInner":0,"paddingOuter":0},"axis":null}}},
  {"data":{"name":"hC"},"transform":[{"filter":"datum.kind=='group'"}],"mark":{"type":"text","fontWeight":"bold","fontSize":13,"dy":3.5},"encoding":{"text":{"field":"text"}}},
  {"data":{"name":"hC"},"transform":[{"filter":"datum.kind=='group2'"}],"mark":{"type":"text","fontWeight":"bold","fontSize":13,"dy":-2},"encoding":{"text":{"field":"text"}}},
  {"data":{"name":"hC"},"transform":[{"filter":"datum.col=='ramie'"}],"mark":{"type":"text","fontWeight":"bold","fontSize":13},"encoding":{"text":{"field":"text"}}},
  {"data":{"name":"C"},"transform":[{"filter":"isValid(datum.ramie)"}],"mark":{"type":"text"},"encoding":{"text":{"field":"ramie"}}}
 ]},
 {"width":57,"height":335.25,"encoding":{"x":{"datum":0,"type":"quantitative","scale":{"domain":[0,1]},"axis":null},"y":{"field":"row","type":"nominal","scale":{"type":"band","domain":["title","h1","h2","h3","r1","r2","r3","r4","r5","r6","r7","r8","r9","r10","r11"],"paddingInner":0,"paddingOuter":0},"axis":null}},"layer":[
  {"data":{"values":[{}]},"mark":{"type":"rule","color":"#333333","strokeWidth":2},"encoding":{"x2":{"datum":1},"y":{"datum":"h3","type":"nominal","bandPosition":1,"scale":{"type":"band","domain":["title","h1","h2","h3","r1","r2","r3","r4","r5","r6","r7","r8","r9","r10","r11"],"paddingInner":0,"paddingOuter":0},"axis":null}}},
  {"data":{"name":"C"},"transform":[{"filter":"datum.kind!='result'"}],"mark":{"type":"rule","color":"#d3d3d3","strokeWidth":1},"encoding":{"x2":{"datum":1},"y":{"field":"row","type":"nominal","bandPosition":1,"scale":{"type":"band","domain":["title","h1","h2","h3","r1","r2","r3","r4","r5","r6","r7","r8","r9","r10","r11"],"paddingInner":0,"paddingOuter":0},"axis":null}}},
  {"data":{"values":[{}]},"mark":{"type":"rule","color":"#9a9a9a","strokeWidth":1.5},"encoding":{"x2":{"datum":1},"y":{"datum":"h2","type":"nominal","bandPosition":0.82,"scale":{"type":"band","domain":["title","h1","h2","h3","r1","r2","r3","r4","r5","r6","r7","r8","r9","r10","r11"],"paddingInner":0,"paddingOuter":0},"axis":null}}},
  {"data":{"name":"hC"},"transform":[{"filter":"datum.col=='vamie'"}],"mark":{"type":"text","fontWeight":"bold","fontSize":13},"encoding":{"text":{"field":"text"}}},
  {"data":{"name":"C"},"transform":[{"filter":"isValid(datum.vamie)"}],"mark":{"type":"text"},"encoding":{"text":{"field":"vamie"}}}
 ]},
 {"width":33,"height":335.25,"encoding":{"x":{"datum":0,"type":"quantitative","scale":{"domain":[0,1]},"axis":null},"y":{"field":"row","type":"nominal","scale":{"type":"band","domain":["title","h1","h2","h3","r1","r2","r3","r4","r5","r6","r7","r8","r9","r10","r11"],"paddingInner":0,"paddingOuter":0},"axis":null}},"layer":[
  {"data":{"values":[{}]},"mark":{"type":"rule","color":"#333333","strokeWidth":2},"encoding":{"x2":{"datum":1},"y":{"datum":"h3","type":"nominal","bandPosition":1,"scale":{"type":"band","domain":["title","h1","h2","h3","r1","r2","r3","r4","r5","r6","r7","r8","r9","r10","r11"],"paddingInner":0,"paddingOuter":0},"axis":null}}},
  {"data":{"name":"C"},"transform":[{"filter":"datum.kind!='result'"}],"mark":{"type":"rule","color":"#d3d3d3","strokeWidth":1},"encoding":{"x2":{"datum":1},"y":{"field":"row","type":"nominal","bandPosition":1,"scale":{"type":"band","domain":["title","h1","h2","h3","r1","r2","r3","r4","r5","r6","r7","r8","r9","r10","r11"],"paddingInner":0,"paddingOuter":0},"axis":null}}}
 ]},
 {"width":138,"height":335.25,"encoding":{"x":{"datum":0,"type":"quantitative","scale":{"domain":[0,1]},"axis":null},"y":{"field":"row","type":"nominal","scale":{"type":"band","domain":["title","h1","h2","h3","r1","r2","r3","r4","r5","r6","r7","r8","r9","r10","r11"],"paddingInner":0,"paddingOuter":0},"axis":null}},"layer":[
  {"data":{"values":[{}]},"mark":{"type":"rule","color":"#333333","strokeWidth":2},"encoding":{"x2":{"datum":1},"y":{"datum":"h3","type":"nominal","bandPosition":1,"scale":{"type":"band","domain":["title","h1","h2","h3","r1","r2","r3","r4","r5","r6","r7","r8","r9","r10","r11"],"paddingInner":0,"paddingOuter":0},"axis":null}}},
  {"data":{"name":"C"},"transform":[{"filter":"datum.kind!='result'"}],"mark":{"type":"rule","color":"#d3d3d3","strokeWidth":1},"encoding":{"x2":{"datum":1},"y":{"field":"row","type":"nominal","bandPosition":1,"scale":{"type":"band","domain":["title","h1","h2","h3","r1","r2","r3","r4","r5","r6","r7","r8","r9","r10","r11"],"paddingInner":0,"paddingOuter":0},"axis":null}}},
  {"data":{"name":"hC"},"transform":[{"filter":"datum.kind=='rdtop'"}],"mark":{"type":"text","fontWeight":"bold","fontSize":13,"dy":5},"encoding":{"text":{"field":"text"}}},
  {"data":{"name":"hC"},"transform":[{"filter":"datum.col=='rd'"}],"mark":{"type":"text","fontWeight":"bold","fontSize":13},"encoding":{"text":{"field":"text"}}},
  {"data":{"name":"C"},"transform":[{"filter":"isValid(datum.rd)"}],"mark":{"type":"text"},"encoding":{"text":{"field":"rd"}}}
 ]},
 {"width":222,"height":335.25,"encoding":{"y":{"field":"row","type":"nominal","scale":{"type":"band","domain":["title","h1","h2","h3","r1","r2","r3","r4","r5","r6","r7","r8","r9","r10","r11"],"paddingInner":0,"paddingOuter":0},"axis":null}},"layer":[
  {"data":{"values":[{}]},"mark":{"type":"rule","color":"#8c8c8c","strokeDash":[2,2],"strokeWidth":1},"encoding":{"x":{"datum":0,"type":"quantitative","scale":{"domain":[-0.4,0.4],"range":[57,171],"clamp":true,"nice":false,"zero":false},"axis":{"values":[-0.4,0,0.4],"labelExpr":"datum.value < 0 ? '-0.3' : datum.value > 0 ? '0.3' : '0'","title":"Risk difference (95% CI)","offset":6,"grid":false,"domainColor":"#555555","tickColor":"#555555","tickSize":5,"labelFontSize":14,"labelColor":"#1a1a1a","labelPadding":2,"titleFontSize":14,"titleFontWeight":"normal","titleColor":"#1a1a1a","titlePadding":5,"orient":"bottom","labelFlush":false,"labelOverlap":false}},"y":{"datum":"h3","type":"nominal","bandPosition":0.12,"scale":{"type":"band","domain":["title","h1","h2","h3","r1","r2","r3","r4","r5","r6","r7","r8","r9","r10","r11"],"paddingInner":0,"paddingOuter":0},"axis":null},"y2":{"datum":"r11","bandPosition":1}}},
  {"data":{"name":"hC"},"transform":[{"filter":"datum.kind=='favL'"}],"mark":{"type":"text","fontWeight":"bold","fontSize":13,"align":"right","dx":-10},"encoding":{"x":{"datum":0,"type":"quantitative"},"text":{"field":"text"}}},
  {"data":{"name":"hC"},"transform":[{"filter":"datum.kind=='favR'"}],"mark":{"type":"text","fontWeight":"bold","fontSize":13,"align":"left","dx":10},"encoding":{"x":{"datum":0,"type":"quantitative"},"text":{"field":"text"}}},
  {"data":{"name":"C"},"transform":[{"filter":"isValid(datum.w)"}],"mark":{"type":"rule","color":"#555555","strokeWidth":1},"encoding":{"x":{"field":"lo","type":"quantitative"},"x2":{"field":"hi"}}},
  {"data":{"name":"C"},"transform":[{"filter":"isValid(datum.w)"}],"mark":{"type":"point","shape":"square","filled":true,"color":"#234e4e","opacity":1},"encoding":{"x":{"field":"est","type":"quantitative"},"size":{"field":"w","type":"quantitative","scale":{"domain":[0,100],"range":[0,543]},"legend":null}}},
  {"data":{"name":"C"},"transform":[{"filter":"datum.kind=='result'"}],"mark":{"type":"point","shape":"M-0.71,0L0,-1L0.71,0L0,1Z","size":441,"filled":true,"fill":"#80c2c0","stroke":"#2b5050","strokeWidth":1,"opacity":1},"encoding":{"x":{"field":"est","type":"quantitative"}}}
 ]},
 {"width":47,"height":335.25,"encoding":{"x":{"datum":0,"type":"quantitative","scale":{"domain":[0,1]},"axis":null},"y":{"field":"row","type":"nominal","scale":{"type":"band","domain":["title","h1","h2","h3","r1","r2","r3","r4","r5","r6","r7","r8","r9","r10","r11"],"paddingInner":0,"paddingOuter":0},"axis":null}},"layer":[
  {"data":{"name":"hC"},"transform":[{"filter":"datum.kind=='pital'"}],"mark":{"type":"text","fontWeight":"bold","fontStyle":"italic","fontSize":13},"encoding":{"text":{"field":"text"}}},
  {"data":{"name":"hC"},"transform":[{"filter":"datum.kind=='pval'"}],"mark":{"type":"text","fontWeight":"bold","fontSize":13,"dx":10},"encoding":{"text":{"field":"text"}}},
  {"data":{"name":"C"},"transform":[{"filter":"isValid(datum.p)"}],"mark":{"type":"text"},"encoding":{"text":{"field":"p"}}}
 ]}
]}
]}
]
}
